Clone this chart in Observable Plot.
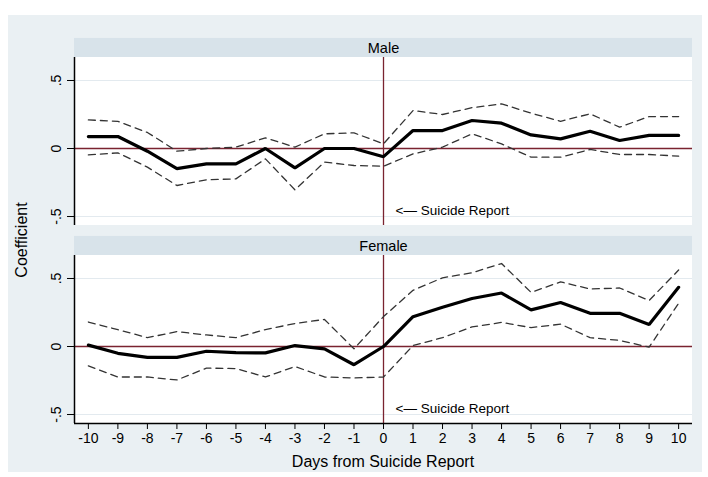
<!DOCTYPE html>
<html><head><meta charset="utf-8">
<script src="https://cdn.jsdelivr.net/npm/d3@7"></script>
<script src="https://cdn.jsdelivr.net/npm/@observablehq/plot@0.6"></script>
<style>
html,body{margin:0;padding:0;background:#fff;}
#wrap{position:relative;width:708px;height:477px;overflow:hidden;font-family:"Liberation Sans",Arial,sans-serif;}
#bg{position:absolute;left:8px;top:15px;width:694px;height:457px;background:#eaf0f3;}
#chart{position:absolute;left:0;top:0;}
.ttl{position:absolute;font-size:16px;color:#000;white-space:nowrap;}
#ytitle{left:22px;top:240px;transform:translate(-50%,-50%) rotate(-90deg);}
#xtitle{left:383px;top:462px;transform:translate(-50%,-50%);}
</style></head>
<body>
<div id="wrap"><div id="bg"></div><div id="chart"></div>
<div class="ttl" id="ytitle">Coefficient</div>
<div class="ttl" id="xtitle">Days from Suicide Report</div>
</div>
<script>
const days = [-10,-9,-8,-7,-6,-5,-4,-3,-2,-1,0,1,2,3,4,5,6,7,8,9,10];
const panels = ["Male","Female"];
const maleCoef = [0.088,0.088,-0.02,-0.148,-0.113,-0.113,0.0,-0.142,0.0,0.0,-0.06,0.132,0.132,0.206,0.186,0.10,0.071,0.127,0.059,0.096,0.096];
const maleHi = [0.21,0.20,0.118,-0.02,0.0,0.01,0.078,0.01,0.108,0.115,0.034,0.279,0.25,0.30,0.328,0.26,0.20,0.255,0.157,0.235,0.235];
const maleLo = [-0.047,-0.032,-0.137,-0.272,-0.23,-0.223,-0.076,-0.304,-0.10,-0.125,-0.13,-0.04,0.01,0.108,0.034,-0.064,-0.064,-0.007,-0.044,-0.044,-0.056];
const femaleCoef = [0.01,-0.05,-0.08,-0.08,-0.035,-0.045,-0.047,0.007,-0.017,-0.134,0.0,0.219,0.289,0.353,0.393,0.269,0.323,0.244,0.244,0.162,0.435];
const femaleHi = [0.18,0.124,0.065,0.109,0.085,0.065,0.124,0.169,0.199,-0.017,0.22,0.413,0.505,0.542,0.61,0.398,0.475,0.423,0.43,0.338,0.562];
const femaleLo = [-0.142,-0.224,-0.224,-0.246,-0.159,-0.162,-0.224,-0.147,-0.224,-0.231,-0.224,0.007,0.065,0.144,0.177,0.139,0.164,0.065,0.045,-0.005,0.318];
const yTicks = [-0.5,0,0.5];
const yTickLabels = ["-.5","0",".5"];
const annotation = "<— Suicide Report";

const rows = [];
days.forEach((d,i)=>{
  rows.push({sex:"Male",day:d,coef:maleCoef[i],hi:maleHi[i],lo:maleLo[i]});
  rows.push({sex:"Female",day:d,coef:femaleCoef[i],hi:femaleHi[i],lo:femaleLo[i]});
});
const xmin=-10.47, xmax=10.47, ymin=-0.566, ymax=0.669, hdrTop=0.809;
const maroon="#7a2330";
const panelRows = panels.map(s=>({sex:s}));

const chart = Plot.plot({
  width:708, height:477,
  marginTop:57, marginBottom:54, marginLeft:74, marginRight:16,
  style:{fontFamily:"'Liberation Sans',Arial,sans-serif",fontSize:"14px",background:"transparent",color:"#000"},
  x:{domain:[xmin,xmax]},
  y:{domain:[ymin,ymax]},
  fy:{domain:panels, axis:null, paddingInner:0.1515, paddingOuter:0, round:false},
  marks:[
    Plot.rect(panelRows,{fy:"sex",x1:()=>xmin,x2:()=>xmax,y1:()=>ymin,y2:()=>ymax,fill:"#fff"}),
    Plot.rect(panelRows,{fy:"sex",x1:()=>xmin,x2:()=>xmax,y1:()=>ymax,y2:()=>hdrTop,fill:"#d8e3ea"}),
    Plot.text(panelRows,{fy:"sex",x:()=>0,y:()=>(ymax+hdrTop)/2,text:"sex",fontSize:14.5}),
    Plot.ruleY(panelRows.flatMap(p=>[-0.5,0.5].map(v=>({sex:p.sex,v}))),{fy:"sex",y:"v",x1:xmin,x2:xmax,stroke:"#e3eaef",strokeWidth:1.2}),
    Plot.ruleY(panelRows,{fy:"sex",y:()=>0,stroke:maroon,strokeWidth:1.6}),
    Plot.ruleX(panelRows,{fy:"sex",x:()=>0,y1:()=>ymin,y2:()=>ymax,stroke:maroon,strokeWidth:1.3}),
    Plot.ruleX(panelRows,{fy:"sex",x:()=>xmin,y1:()=>ymin,y2:()=>ymax,stroke:"#000",strokeWidth:1.5}),
    Plot.ruleY([{sex:"Female"}],{fy:"sex",y:()=>ymin,x1:()=>xmin,x2:()=>xmax,stroke:"#000",strokeWidth:1.5}),
    Plot.line(rows,{fy:"sex",x:"day",y:"hi",stroke:"#333",strokeWidth:1.3,strokeDasharray:"7,5"}),
    Plot.line(rows,{fy:"sex",x:"day",y:"lo",stroke:"#333",strokeWidth:1.3,strokeDasharray:"7,5"}),
    Plot.line(rows,{fy:"sex",x:"day",y:"coef",stroke:"#000",strokeWidth:3.2,strokeLinejoin:"miter"}),
    Plot.text(panelRows,{fy:"sex",x:()=>0,y:()=>-0.46,text:()=>annotation,dx:12,textAnchor:"start",fontSize:13.5}),
    Plot.axisY({ticks:yTicks,tickFormat:d=>yTickLabels[yTicks.indexOf(d)],tickRotate:-90,tickSize:7,tickPadding:7,label:null,fontSize:14}),
    Plot.axisX({ticks:days,tickFormat:d=>String(d),tickSize:6,tickPadding:4,label:null,fontSize:14})
  ]
});
document.getElementById("chart").appendChild(chart);
</script>
</body></html>
